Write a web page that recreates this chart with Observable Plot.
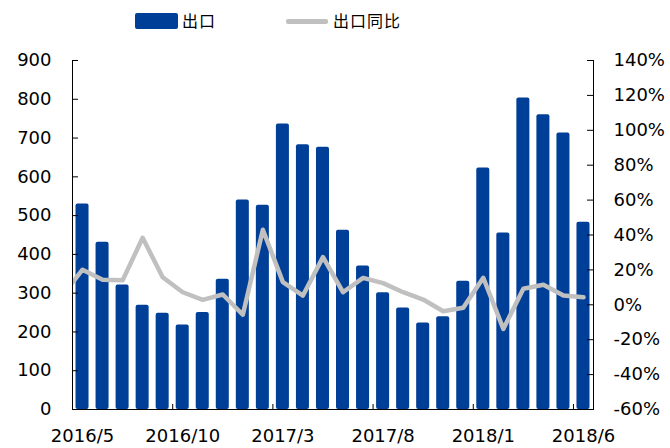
<!DOCTYPE html>
<html><head><meta charset="utf-8">
<script src="https://cdn.jsdelivr.net/npm/d3@7"></script>
<script src="https://cdn.jsdelivr.net/npm/@observablehq/plot@0.6"></script>
<style>
body{margin:0;background:#fff;width:670px;height:448px;overflow:hidden;}
#legend{position:relative;height:40px;font-family:"Noto Sans CJK SC";font-size:16px;color:#000;}
#legend span{position:absolute;top:9px;line-height:22px;letter-spacing:1px;}
</style></head><body>
<div id="legend">
  <div style="position:absolute;left:135px;top:13px;width:43px;height:16px;background:#003F98;border-radius:2px"></div>
  <span style="left:182px">出口</span>
  <div style="position:absolute;left:286px;top:19px;width:42px;height:5px;background:#C0C0C0;border-radius:2px"></div>
  <span style="left:333px">出口同比</span>
</div>
<div id="chart"></div>
<script>
const months = ["2016/5","2016/6","2016/7","2016/8","2016/9","2016/10","2016/11","2016/12",
  "2017/1","2017/2","2017/3","2017/4","2017/5","2017/6","2017/7","2017/8","2017/9","2017/10",
  "2017/11","2017/12","2018/1","2018/2","2018/3","2018/4","2018/5","2018/6"];
const exportValues = [530,431,321,269,248,218,250,336,540,527,736,683,676,462,370,301,262,223,
  239,331,623,455,803,760,713,483];
// year-on-year %, first entry is 2016/4 (only its segment into 2016/5 is visible, clipped)
const yoyMonths = ["2016/4", ...months];
const yoyPct = [5.5,20.1,14.4,14.0,38.4,15.8,7.2,2.8,5.9,-5.7,43.0,13.0,5.3,27.3,7.2,15.4,12.4,7.2,
  3.0,-3.7,-1.7,15.5,-13.8,9.2,11.5,5.3,4.3];
const xTickLabels = ["2016/5","2016/10","2017/3","2017/8","2018/1","2018/6"];
const leftTicks = [0,100,200,300,400,500,600,700,800,900];
const rightTicks = [-60,-40,-20,0,20,40,60,80,100,120,140];

// right axis (%) mapped onto left scale domain [0, 900]
const pctToLeft = p => (p + 60) * 900 / 200;
const idx = m => months.indexOf(m) >= 0 ? months.indexOf(m) : -1;

const bars = months.map((m, i) => ({month: m, value: exportValues[i]}));
const line = yoyMonths.map((m, i) => ({month: m, pct: yoyPct[i]}));

const W = 670, H = 408, mt = 20, mb = 39, ml = 72, mr = 77;
const innerH = H - mt - mb, innerW = W - ml - mr;
const half = 0.325; // half bar width in category units

const chart = Plot.plot({
  width: W, height: H,
  marginTop: mt, marginBottom: mb, marginLeft: ml, marginRight: mr,
  style: {fontFamily: "DejaVu Sans", fontSize: "18px", color: "#000", background: "#fff"},
  x: {domain: [-0.5, months.length - 0.5], label: null, axis: null},
  y: {domain: [0, 900], label: null, axis: null},
  marks: [
    Plot.rectY(bars, {x1: d => idx(d.month) - half, x2: d => idx(d.month) + half, y: "value", fill: "#003F98", rx: 2}),
    Plot.line(line, {x: d => idx(d.month), y: d => pctToLeft(d.pct), stroke: "#C0C0C0", strokeWidth: 4.5, strokeLinejoin: "round", clip: "frame"}),
    Plot.ruleY([0], {stroke: "#000", strokeWidth: 1}),
    Plot.frame({anchor: "left", stroke: "#000"}),
    Plot.frame({anchor: "right", stroke: "#000"}),
    Plot.tickY(leftTicks, {y: d => d, stroke: "#000", insetRight: innerW - 6}),
    Plot.tickY(rightTicks, {y: d => pctToLeft(d), stroke: "#000", insetLeft: innerW - 6}),
    Plot.ruleX(xTickLabels, {x: d => idx(d) - 0.5, stroke: "#000", insetTop: innerH - 5}),
    Plot.axisY({anchor: "left", ticks: leftTicks, tickSize: 0, tickPadding: 21, label: null, fontSize: 18}),
    Plot.axisY({anchor: "right", ticks: rightTicks.map(pctToLeft), tickSize: 0, tickPadding: 20,
      tickFormat: d => Math.round(d * 200 / 900 - 60) + "%", label: null, fontSize: 18}),
    Plot.axisX({ticks: xTickLabels.map(idx), tickSize: 0, tickPadding: 20,
      tickFormat: i => months[i], label: null, fontSize: 18})
  ]
});
document.getElementById("chart").appendChild(chart);
</script>
</body></html>
